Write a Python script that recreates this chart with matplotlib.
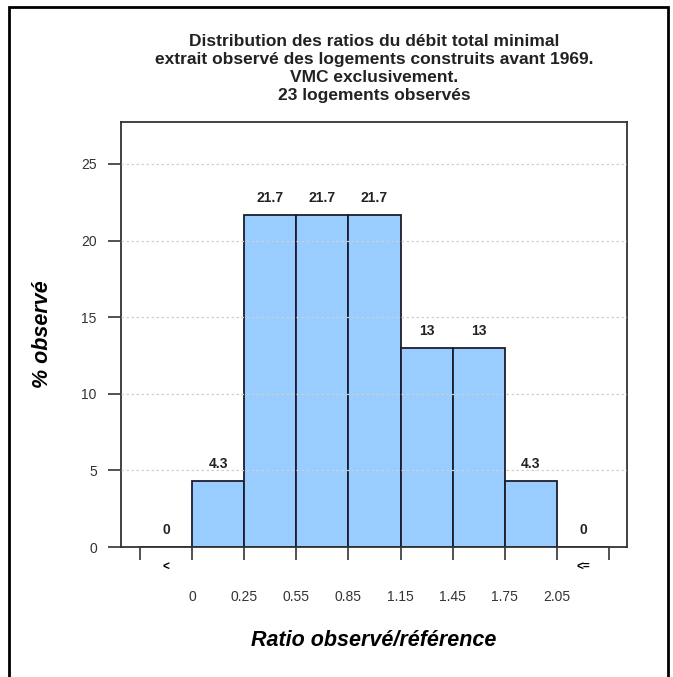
import numpy as np
import matplotlib
matplotlib.use('Agg')
import matplotlib.pyplot as plt
from matplotlib.patches import Rectangle

plt.rcParams['font.family'] = ['Liberation Sans', 'DejaVu Sans']

# classes du ratio : "<" puis intervalles [0;0.25[ ... [1.75;2.05[ puis "<="
bornes = ['0', '0.25', '0.55', '0.85', '1.15', '1.45', '1.75', '2.05']
pct = [0, 4.3, 21.7, 21.7, 21.7, 13, 13, 4.3, 0]
extremes = ['<', '<=']

titre = ("Distribution des ratios du débit total minimal\n"
         "extrait observé des logements construits avant 1969.\n"
         "VMC exclusivement.\n"
         "23 logements observés")

fig = plt.figure(figsize=(6.73, 6.77), dpi=100)
ax = fig.add_axes([0.1798, 0.1920, 0.7519, 0.6278])

# cadre autour de la figure
fig.patches.append(Rectangle((0.014, -0.02), 0.979, 1.01, transform=fig.transFigure,
                             fill=False, edgecolor='black', linewidth=2))

n = len(pct)
x = np.arange(n)
ax.bar(x, pct, width=1.0, align='edge', color='#99ccff', edgecolor='#1c1c2c',
       linewidth=1.3, zorder=2)

# grille horizontale pointillee
for yv in range(5, 30, 5):
    ax.axhline(yv, color='#d0d0d0', linestyle=(0, (2, 2)), linewidth=0.9, zorder=3)

# valeurs au-dessus des barres
for xi, v in zip(x, pct):
    ax.annotate('%g' % v, (xi + 0.5, v), xytext=(0, 12), textcoords='offset points',
                ha='center', va='center', fontsize=10, fontweight='bold', color='#222222')

ax.set_xlim(-0.365, n + 0.345)
ax.set_ylim(0, 27.74)

ax.set_yticks([0, 5, 10, 15, 20, 25])
ax.tick_params(axis='y', length=9.4, width=1.3, color='#444444', pad=8,
               labelsize=10, labelcolor='#333333')
ax.set_xticks(np.arange(n + 1))
ax.set_xticklabels([])
ax.tick_params(axis='x', length=9.4, width=1.3, color='#444444')

# libelles des classes extremes et des bornes
ax.annotate(extremes[0], (0.5, 0), xycoords=('data', 'axes fraction'), xytext=(0, -15),
            textcoords='offset points', ha='center', va='center', fontsize=8.5,
            fontweight='bold')
ax.annotate(extremes[1], (n - 0.5, 0), xycoords=('data', 'axes fraction'), xytext=(0, -15),
            textcoords='offset points', ha='center', va='center', fontsize=8.5,
            fontweight='bold')
for i, lab in enumerate(bornes):
    ax.annotate(lab, (i + 1, 0), xycoords=('data', 'axes fraction'), xytext=(0, -36),
                textcoords='offset points', ha='center', va='center', fontsize=10,
                color='#333333')

for s in ax.spines.values():
    s.set_linewidth(1.3)
    s.set_color('#333333')

ax.set_ylabel('% observé', fontsize=15.5, fontweight='bold', fontstyle='italic', labelpad=20)
ax.annotate('Ratio observé/référence', (0.5, 0), xycoords='axes fraction', xytext=(0, -67),
            textcoords='offset points', ha='center', va='center', fontsize=15.5,
            fontweight='bold', fontstyle='italic')

fig.text(0.5557, 0.8995, titre, ha='center', va='center', fontsize=12.5,
         fontweight='bold', linespacing=1.25, color='#222222')

fig.savefig('out.png', dpi=100)
